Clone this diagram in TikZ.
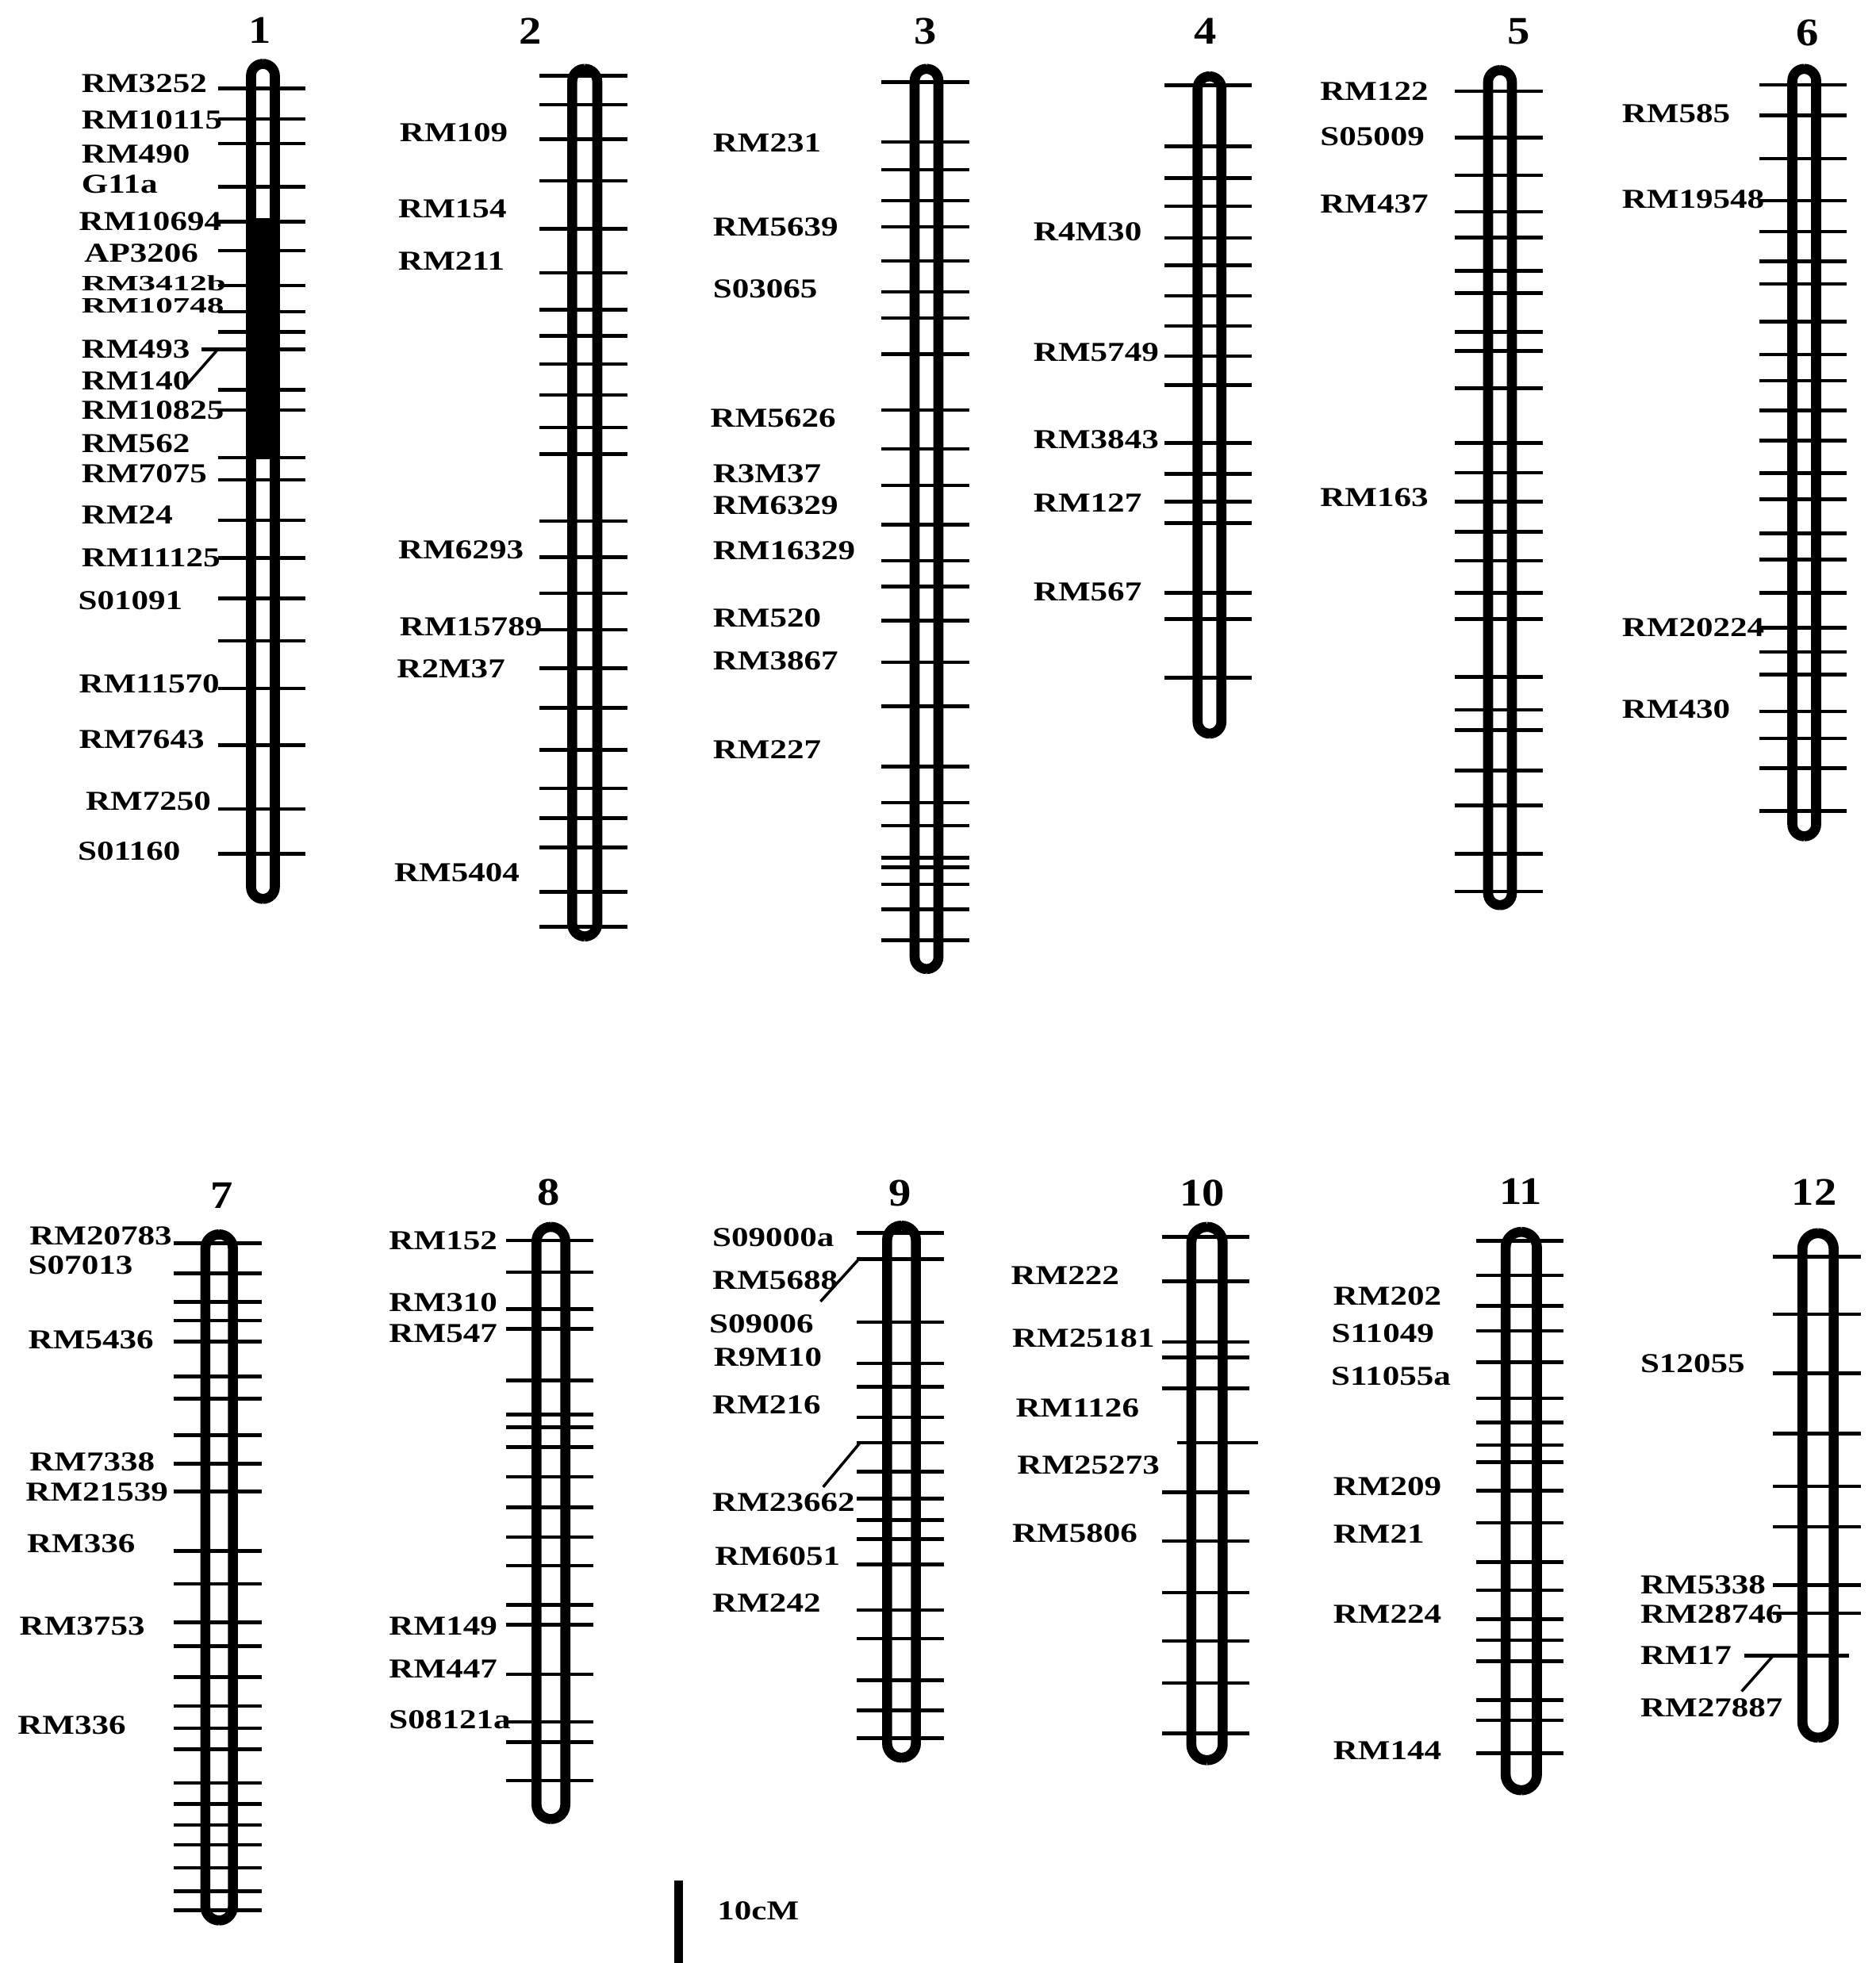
\documentclass[tikz,border=0pt]{standalone}
\usepackage{fontspec}
\setmainfont{Liberation Serif}
\tikzset{
  chrbody/.style={draw=black, fill=white, line width=3.6pt},
  tickline/.style={draw=black, line width=1.3pt},
  conn/.style={draw=black, line width=1pt},
  lbl/.style={font=\fontsize{9.8}{10}\selectfont\bfseries, inner sep=0pt, anchor=west},
  num/.style={font=\fontsize{14}{14}\selectfont\bfseries, inner sep=0pt},
}
% #1 cx, #2 top, #3 bottom, #4 outer width, #5 tick list
\newcommand\chrom[5]{%
  \pgfmathsetmacro\hw{(#4-8)/2}%
  \draw[chrbody, rounded corners=\hw*0.449pt] (#1-\hw,#2+4) rectangle (#1+\hw,#3-4);
  \foreach \tk in {#5} {\draw[tickline] (#1-36,\tk) -- (#1+34,\tk);}
}
\newcommand\lab[4]{\node[lbl] (#1) at (#2,#3) {\scalebox{1.25}[1]{#4}};}
\newcommand\labsq[4]{\node[lbl] (#1) at (#2,#3) {\scalebox{1.25}[0.8]{#4}};}
\newcommand\cnum[4]{\node[num] (#1) at (#2,#3) {\scalebox{1.15}[1]{#4}};}
\begin{document}
\begin{tikzpicture}[x=0.015781cm, y=-0.015781cm]
\useasboundingbox (0,0) rectangle (1498,1568);

% ---------- chromosome 1 ----------
\cnum{n1}{207.5}{24}{1}
\chrom{210}{47}{722}{27}{70.6,95.1,114.6,149.3,177.1,200.2,228.0,248.9,265.1,279.0,311.4,327.6,365.6,383.2,415.6,445.7,478.1,511.9,549.9,595.3,646.2,681.9}
\fill[black] (204.5,174) rectangle (215.5,366);
\draw[tickline] (161,279) -- (176,279);
\lab{c1a}{64.8}{66.5}{RM3252}
\lab{c1b}{64.8}{96.0}{RM10115}
\lab{c1c}{64.8}{122.9}{RM490}
\lab{c1d}{64.8}{147.0}{G11a}
\lab{c1e}{62.7}{177.1}{RM10694}
\lab{c1f}{67}{202.5}{AP3206}
\labsq{c1g}{64.8}{226}{RM3412b}
\labsq{c1h}{64.8}{244}{RM10748}
\lab{c1i}{64.8}{279.0}{RM493}
\lab{c1j}{64.8}{304.4}{RM140}
\lab{c1k}{64.8}{327.6}{RM10825}
\lab{c1l}{64.8}{354.5}{RM562}
\lab{c1m}{64.8}{378.5}{RM7075}
\lab{c1n}{64.8}{411}{RM24}
\lab{c1o}{64.8}{445.7}{RM11125}
\lab{c1p}{62}{480}{S01091}
\lab{c1q}{62.7}{546}{RM11570}
\lab{c1r}{62.7}{590.6}{RM7643}
\lab{c1s}{68}{640}{RM7250}
\lab{c1t}{61.7}{679.6}{S01160}
\coordinate (k1a) at (149.4,307);
\coordinate (k1b) at (174,279);
\draw[conn] (k1a) -- (k1b);

% ---------- chromosome 2 ----------
\cnum{n2}{423.3}{25}{2}
\chrom{467}{51}{752}{28}{60.6,83.6,111.0,144.5,182.8,217.8,247.5,268.2,290.7,315.6,341.5,362.6,416.3,445.0,473.8,503.0,533.7,565.4,598.9,629.6,653.6,677.1,712.5,740.3}
\lab{c2a}{318.8}{106.1}{RM109}
\lab{c2b}{317.7}{167.0}{RM154}
\lab{c2c}{317.7}{208.2}{RM211}
\lab{c2d}{317.7}{439.3}{RM6293}
\lab{c2e}{318.8}{500.6}{RM15789}
\lab{c2f}{316.6}{534.2}{R2M37}
\lab{c2g}{314.5}{697.2}{RM5404}

% ---------- chromosome 3 ----------
\cnum{n3}{739.3}{25}{3}
\chrom{740}{51}{778}{27}{65.7,113.3,135.5,160.3,181.2,208.4,233.2,254.0,282.8,327.4,358.6,387.8,419.0,447.8,468.6,495.9,529.0,564.3,612.3,641.1,659.4,685.2,692.6,706.5,726.3,751.1}
\lab{c3a}{569}{114.3}{RM231}
\lab{c3b}{569}{181.2}{RM5639}
\lab{c3c}{569}{230.7}{S03065}
\lab{c3d}{567}{333.8}{RM5626}
\lab{c3e}{569}{378.4}{R3M37}
\lab{c3f}{569}{404}{RM6329}
\lab{c3g}{569}{439.9}{RM16329}
\lab{c3h}{569}{493.4}{RM520}
\lab{c3i}{569}{528}{RM3867}
\lab{c3j}{569}{598.9}{RM227}

% ---------- chromosome 4 ----------
\cnum{n4}{963}{25}{4}
\chrom{966}{57}{590}{27}{68.2,116.9,142.3,164.6,190.1,211.8,236.4,260.4,284.5,307.7,354.0,378.5,400.8,417.9,473.5,494.3,541.5}
\lab{c4a}{825}{185.4}{R4M30}
\lab{c4b}{825}{281.3}{RM5749}
\lab{c4c}{825}{350.8}{RM3843}
\lab{c4d}{825}{401.7}{RM127}
\lab{c4e}{825}{472.5}{RM567}

% ---------- chromosome 5 ----------
\cnum{n5}{1213}{25}{5}
\chrom{1198}{52}{727}{27}{72.9,110.0,140.1,169.2,189.6,216.5,234.0,265.1,280.4,310.0,354.0,377.6,400.8,424.8,448.0,473.5,494.3,540.6,567.0,583.2,615.6,643.4,681.9,712.0}
\lab{c5a}{1054}{72.9}{RM122}
\lab{c5b}{1054}{109}{S05009}
\lab{c5c}{1054}{163.2}{RM437}
\lab{c5d}{1054}{397.1}{RM163}

% ---------- chromosome 6 ----------
\cnum{n6}{1443.7}{26}{6}
\chrom{1441}{51}{672}{27}{67.8,92.3,126.8,160.4,184.9,208.6,226.7,256.8,283.1,304.2,327.9,352.0,377.8,398.9,426.1,446.8,473.4,501.4,520.8,538.9,568.2,589.7,613.4,647.8}
\lab{c6a}{1295}{90.5}{RM585}
\lab{c6b}{1295}{159.1}{RM19548}
\lab{c6c}{1295}{501.4}{RM20224}
\lab{c6d}{1295}{566.5}{RM430}

% ---------- chromosome 7 ----------
\cnum{n7}{177}{955}{7}
\chrom{175}{982}{1538}{30}{993.2,1017.1,1039.8,1054.9,1071.6,1099.5,1117.4,1146.5,1169.1,1191.4,1238.8,1265.1,1295.7,1314.8,1339.5,1362.6,1380.5,1397.2,1424.3,1441.0,1457.7,1473.6,1491.9,1510.6,1525.7}
\lab{c7a}{23.2}{987.3}{RM20783}
\lab{c7b}{22.2}{1010.3}{S07013}
\lab{c7c}{22.2}{1070}{RM5436}
\lab{c7d}{23.2}{1168}{RM7338}
\lab{c7e}{20.1}{1192}{RM21539}
\lab{c7f}{21.1}{1233}{RM336}
\lab{c7g}{15.2}{1299}{RM3753}
\lab{c7h}{13.7}{1378}{RM336}

% ---------- chromosome 8 ----------
\cnum{n8}{438}{952.5}{8}
\chrom{440}{976}{1457}{31}{990.9,1016.1,1045.8,1061.5,1102.7,1130.0,1140.1,1155.8,1179.6,1204.1,1227.8,1250.5,1282.0,1297.7,1337.5,1375.3,1391.7,1422.4}
\lab{c8a}{310.3}{990.9}{RM152}
\lab{c8b}{310.3}{1040.6}{RM310}
\lab{c8c}{310.3}{1065.3}{RM547}
\lab{c8d}{310.3}{1299}{RM149}
\lab{c8e}{310.3}{1333.3}{RM447}
\lab{c8f}{310.3}{1373.5}{S08121a}

% ---------- chromosome 9 ----------
\cnum{n9}{719}{953}{9}
\chrom{720}{975}{1408}{31}{984.7,1005.6,1056.0,1089.0,1107.6,1132.2,1152.3,1175.5,1197.1,1214.1,1229.5,1249.6,1286.0,1308.9,1342.2,1366.3,1388.5}
\lab{c9a}{568.6}{988.7}{S09000a}
\lab{c9b}{568.6}{1022.6}{RM5688}
\lab{c9c}{566}{1057.5}{S09006}
\lab{c9d}{569.6}{1084.4}{R9M10}
\lab{c9e}{568.6}{1122.4}{RM216}
\lab{c9f}{568.6}{1200.2}{RM23662}
\lab{c9g}{570.6}{1243.4}{RM6051}
\lab{c9h}{568.6}{1280.4}{RM242}
\coordinate (k9a) at (655.3,1039.6);
\coordinate (k9b) at (687,1004.6);
\draw[conn] (k9a) -- (k9b);
\coordinate (k9c) at (657.4,1187.8);
\coordinate (k9d) at (687,1152.3);
\draw[conn] (k9c) -- (k9d);

% ---------- chromosome 10 ----------
\cnum{n10}{960.3}{953}{10}
\chrom{964}{976}{1410}{33}{988.1,1023.6,1072.0,1084.4,1109.1,1191.8,1231.0,1272.1,1310.7,1344.4,1384.5}
\draw[tickline] (940,1152.3) -- (1004.6,1152.3);
\lab{c10a}{807}{1019}{RM222}
\lab{c10b}{808}{1069}{RM25181}
\lab{c10c}{810.8}{1124.5}{RM1126}
\lab{c10d}{812}{1170}{RM25273}
\lab{c10e}{808}{1224.8}{RM5806}

% ---------- chromosome 11 ----------
\cnum{n11}{1214.8}{952}{11}
\chrom{1215}{980}{1434}{33}{991.0,1018.6,1043.0,1063.1,1088.2,1116.8,1136.3,1154.2,1167.8,1190.6,1216.5,1247.8,1270.2,1293.2,1310.1,1327.1,1357.9,1374.2,1400.5}
\lab{c11a}{1064.4}{1035}{RM202}
\lab{c11b}{1063}{1064.8}{S11049}
\lab{c11c}{1062.7}{1099}{S11055a}
\lab{c11d}{1064.4}{1187.3}{RM209}
\lab{c11e}{1064.4}{1225}{RM21}
\lab{c11f}{1064.4}{1289}{RM224}
\lab{c11g}{1064.4}{1398.5}{RM144}

% ---------- chromosome 12 ----------
\cnum{n12}{1449}{952.6}{12}
\chrom{1452}{981}{1392}{33}{1003.7,1049.7,1096.9,1145.0,1187.1,1219.6,1266.2,1288.7}
\draw[tickline] (1393,1322.4) -- (1476.6,1322.4);
\lab{c12a}{1309.7}{1089.4}{S12055}
\lab{c12b}{1309.7}{1266.2}{RM5338}
\lab{c12c}{1309.7}{1289.3}{RM28746}
\lab{c12d}{1309.7}{1322}{RM17}
\lab{c12e}{1309.7}{1364.4}{RM27887}
\coordinate (k12a) at (1391,1351);
\coordinate (k12b) at (1416.3,1322.4);
\draw[conn] (k12a) -- (k12b);

% ---------- scale bar ----------
\coordinate (sb1) at (542,1502);
\coordinate (sb2) at (542,1568);
\draw[line width=3.2pt] (sb1) -- (sb2);
\lab{sbl}{572.5}{1526}{10cM}
\end{tikzpicture}
\end{document}
